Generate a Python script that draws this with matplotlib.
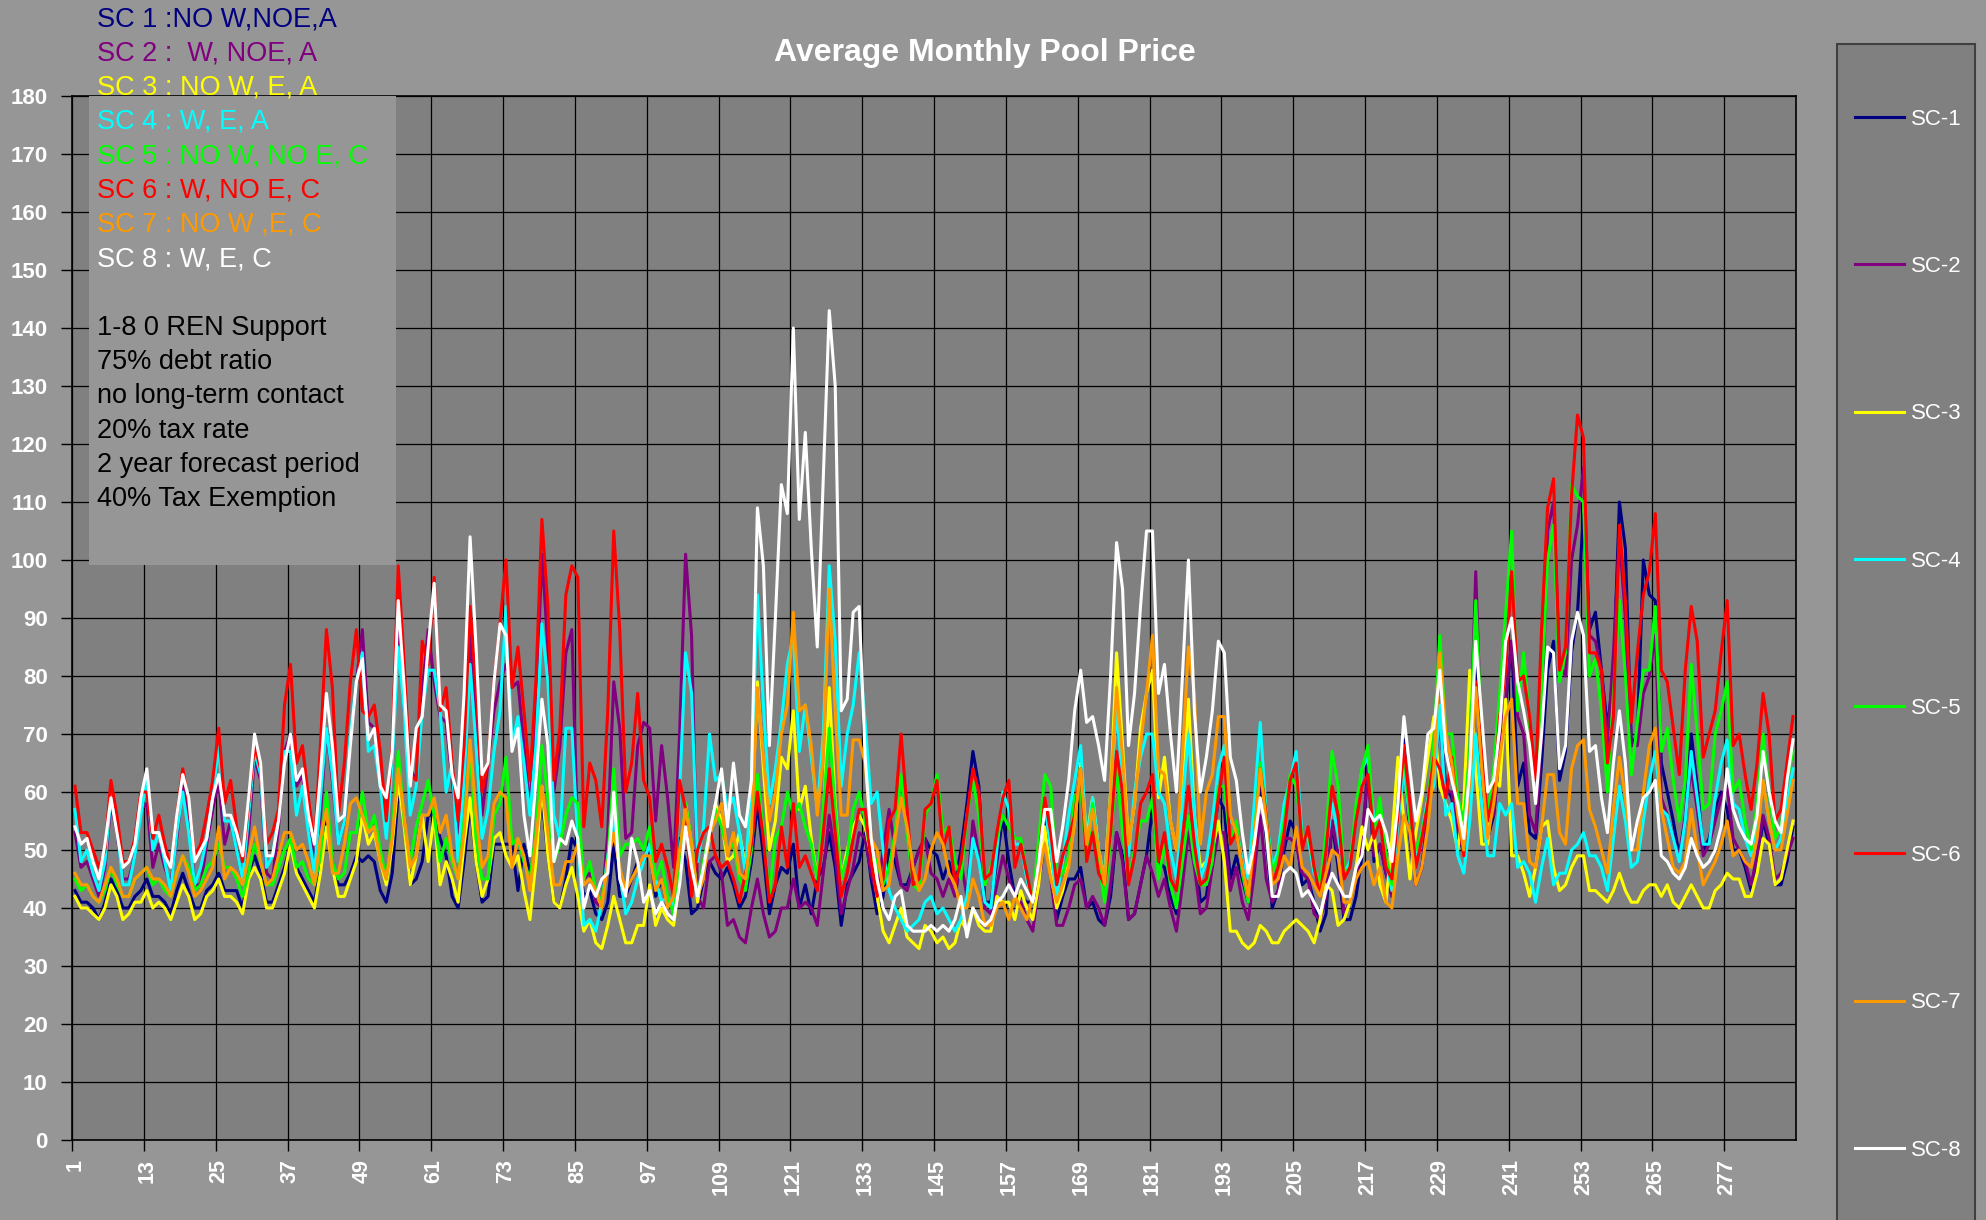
#!/usr/bin/env python3
# -*- coding: utf-8 -*-

import numpy as np
import matplotlib
matplotlib.use("Agg")
import matplotlib.pyplot as plt
from matplotlib.patches import Rectangle

# Monthly pool price per scenario, one row of 12 values per year (288 months)
sc1 = [
    43, 41, 41, 40, 38, 41, 45, 43, 40, 40, 42, 43,
    45, 42, 42, 41, 39, 43, 46, 43, 40, 40, 43, 44,
    46, 43, 43, 43, 40, 46, 49, 46, 41, 41, 44, 47,
    51, 47, 45, 43, 41, 47, 55, 48, 44, 44, 46, 49,
    48, 49, 48, 43, 41, 46, 60, 56, 44, 45, 48, 56,
    56, 52, 49, 42, 40, 48, 58, 48, 41, 42, 51, 51,
    51, 51, 43, 51, 46, 49, 59, 49, 41, 40, 45, 52,
    50, 42, 43, 39, 38, 41, 51, 42, 42, 45, 48, 48,
    50, 42, 45, 40, 41, 52, 48, 39, 40, 45, 48, 46,
    45, 47, 44, 40, 42, 48, 58, 49, 39, 44, 47, 46,
    51, 40, 44, 39, 45, 47, 53, 47, 37, 44, 46, 48,
    53, 45, 39, 42, 50, 48, 44, 44, 47, 50, 52, 50,
    49, 45, 48, 44, 50, 58, 67, 61, 41, 41, 48, 56,
    48, 42, 42, 41, 41, 45, 55, 46, 38, 42, 45, 45,
    47, 40, 41, 38, 37, 42, 53, 49, 38, 39, 44, 49,
    57, 48, 47, 42, 39, 47, 56, 51, 41, 42, 50, 59,
    57, 45, 49, 45, 41, 50, 61, 52, 40, 43, 50, 55,
    53, 44, 45, 41, 36, 39, 55, 47, 38, 38, 42, 49,
    65, 48, 51, 46, 42, 58, 69, 52, 44, 47, 56, 64,
    72, 61, 59, 52, 50, 64, 82, 61, 52, 56, 67, 75,
    86, 61, 65, 53, 52, 65, 81, 86, 62, 67, 84, 91,
    108, 88, 91, 81, 71, 80, 110, 102, 68, 70, 100, 94,
    93, 65, 60, 55, 49, 55, 70, 61, 50, 52, 57, 60,
    57, 50, 50, 47, 43, 48, 55, 51, 44, 44, 48, 54,
]
sc2 = [
    53, 47, 48, 45, 42, 47, 58, 53, 45, 45, 49, 57,
    58, 47, 51, 47, 44, 52, 61, 55, 44, 44, 51, 57,
    62, 51, 55, 50, 45, 53, 66, 62, 46, 45, 54, 67,
    70, 61, 63, 55, 48, 56, 71, 62, 51, 55, 69, 79,
    88, 72, 71, 62, 57, 65, 88, 74, 64, 62, 77, 88,
    79, 73, 72, 62, 53, 62, 88, 71, 56, 65, 74, 79,
    82, 78, 79, 68, 57, 74, 101, 85, 60, 68, 84, 88,
    51, 45, 46, 41, 40, 53, 79, 71, 52, 53, 68, 72,
    71, 55, 68, 59, 47, 70, 101, 87, 42, 40, 48, 49,
    46, 37, 38, 35, 34, 40, 45, 39, 35, 36, 40, 40,
    45, 40, 41, 40, 37, 46, 56, 49, 39, 43, 47, 53,
    52, 46, 42, 50, 57, 50, 44, 43, 47, 50, 52, 46,
    45, 42, 45, 42, 48, 42, 55, 49, 40, 39, 44, 49,
    45, 42, 41, 38, 36, 44, 52, 45, 37, 37, 40, 44,
    45, 40, 42, 40, 37, 44, 53, 48, 38, 39, 44, 49,
    46, 42, 45, 40, 36, 44, 53, 47, 39, 40, 47, 53,
    53, 43, 47, 41, 38, 46, 56, 45, 41, 43, 52, 52,
    51, 46, 45, 39, 38, 42, 55, 49, 39, 41, 45, 52,
    64, 49, 51, 46, 42, 58, 67, 53, 44, 47, 56, 64,
    72, 60, 60, 53, 50, 64, 98, 67, 55, 56, 67, 76,
    86, 73, 70, 56, 53, 70, 105, 110, 82, 80, 100, 106,
    116, 87, 86, 81, 68, 84, 104, 90, 68, 68, 77, 80,
    87, 59, 56, 52, 49, 56, 64, 57, 49, 51, 55, 59,
    61, 52, 50, 48, 44, 49, 56, 52, 45, 46, 49, 52,
]
sc3 = [
    42, 40, 40, 39, 38, 40, 44, 42, 38, 39, 41, 41,
    43, 40, 41, 40, 38, 41, 44, 42, 38, 39, 42, 43,
    45, 42, 42, 41, 39, 45, 47, 45, 40, 40, 43, 46,
    51, 46, 44, 42, 40, 46, 54, 47, 42, 42, 45, 48,
    56, 51, 53, 48, 44, 51, 62, 54, 44, 49, 56, 48,
    56, 44, 48, 45, 41, 51, 59, 48, 42, 45, 52, 53,
    49, 47, 49, 43, 38, 48, 61, 49, 41, 40, 44, 47,
    42, 36, 38, 34, 33, 37, 42, 38, 34, 34, 37, 37,
    44, 37, 40, 38, 37, 45, 58, 51, 41, 47, 52, 58,
    55, 48, 49, 53, 47, 55, 79, 64, 50, 55, 66, 64,
    74, 57, 61, 52, 45, 55, 78, 58, 45, 50, 54, 56,
    54, 49, 42, 36, 34, 37, 40, 35, 34, 33, 37, 36,
    34, 35, 33, 34, 38, 36, 40, 37, 36, 36, 42, 41,
    41, 38, 43, 40, 38, 44, 54, 46, 40, 43, 48, 55,
    65, 52, 59, 50, 45, 60, 84, 68, 51, 58, 71, 77,
    81, 59, 66, 55, 50, 60, 76, 56, 47, 48, 50, 55,
    48, 36, 36, 34, 33, 34, 37, 36, 34, 34, 36, 37,
    38, 37, 36, 34, 38, 44, 43, 37, 38, 41, 47, 54,
    50, 53, 44, 41, 52, 66, 55, 45, 53, 59, 66, 73,
    61, 58, 55, 50, 58, 81, 64, 51, 51, 62, 61, 76,
    49, 49, 46, 42, 47, 54, 55, 47, 43, 44, 47, 49,
    49, 43, 43, 42, 41, 43, 46, 43, 41, 41, 43, 44,
    44, 42, 44, 41, 40, 42, 44, 42, 40, 40, 43, 44,
    46, 45, 45, 42, 42, 46, 52, 51, 44, 45, 50, 55,
]
sc4 = [
    57, 48, 50, 46, 43, 48, 59, 54, 44, 44, 49, 56,
    62, 50, 53, 48, 43, 53, 60, 53, 44, 47, 52, 59,
    68, 55, 55, 50, 45, 56, 67, 63, 47, 49, 56, 67,
    67, 56, 61, 53, 46, 59, 71, 63, 51, 55, 70, 79,
    84, 67, 68, 61, 52, 65, 85, 74, 56, 61, 74, 81,
    81, 74, 60, 65, 48, 62, 82, 68, 52, 57, 67, 74,
    92, 68, 73, 65, 56, 68, 89, 79, 56, 52, 71, 71,
    51, 37, 38, 36, 41, 49, 56, 46, 39, 41, 45, 48,
    51, 45, 41, 42, 40, 60, 84, 77, 48, 54, 70, 62,
    63, 57, 59, 53, 46, 62, 94, 75, 58, 64, 72, 82,
    87, 67, 75, 66, 57, 70, 99, 86, 61, 70, 75, 84,
    72, 58, 60, 50, 43, 40, 38, 36, 37, 38, 41, 42,
    39, 40, 38, 36, 38, 42, 52, 48, 41, 40, 50, 60,
    57, 51, 51, 45, 41, 50, 58, 50, 42, 48, 56, 62,
    68, 51, 59, 50, 45, 60, 74, 62, 49, 60, 66, 70,
    70, 60, 58, 50, 45, 58, 70, 56, 45, 48, 55, 64,
    68, 55, 54, 48, 45, 58, 72, 56, 47, 50, 58, 62,
    67, 52, 52, 46, 44, 50, 58, 53, 46, 48, 55, 64,
    66, 55, 55, 48, 43, 55, 64, 55, 49, 53, 59, 61,
    75, 56, 58, 49, 46, 55, 70, 58, 49, 49, 58, 56,
    58, 47, 48, 46, 41, 47, 52, 44, 46, 46, 50, 51,
    53, 49, 49, 47, 43, 52, 61, 55, 47, 48, 55, 62,
    67, 57, 56, 52, 48, 55, 67, 59, 51, 51, 59, 65,
    69, 58, 57, 52, 49, 55, 62, 55, 50, 52, 58, 64,
]
sc5 = [
    45, 43, 44, 42, 41, 43, 47, 44, 42, 42, 45, 46,
    47, 44, 45, 43, 42, 46, 49, 47, 43, 44, 47, 48,
    51, 47, 47, 45, 42, 46, 51, 48, 44, 44, 47, 50,
    52, 47, 48, 45, 44, 49, 60, 48, 45, 46, 53, 53,
    60, 53, 56, 50, 45, 53, 67, 55, 48, 54, 58, 62,
    56, 48, 52, 48, 45, 55, 67, 52, 45, 45, 56, 58,
    66, 51, 52, 48, 45, 53, 68, 59, 48, 51, 56, 59,
    58, 45, 48, 43, 41, 48, 64, 49, 51, 51, 52, 50,
    54, 45, 48, 42, 39, 46, 58, 51, 42, 48, 53, 57,
    54, 50, 51, 45, 43, 50, 63, 53, 42, 52, 54, 60,
    56, 58, 54, 51, 45, 57, 71, 57, 45, 49, 57, 60,
    55, 49, 48, 44, 47, 53, 63, 53, 44, 43, 56, 58,
    63, 53, 54, 48, 45, 56, 62, 56, 44, 47, 52, 56,
    54, 52, 52, 46, 41, 52, 63, 61, 45, 46, 49, 59,
    61, 48, 58, 48, 41, 52, 64, 53, 45, 50, 55, 55,
    59, 45, 51, 44, 40, 48, 56, 48, 44, 44, 48, 61,
    61, 51, 55, 46, 41, 52, 65, 56, 46, 49, 55, 63,
    61, 52, 53, 47, 44, 53, 67, 61, 46, 47, 58, 64,
    68, 53, 59, 49, 44, 58, 67, 55, 50, 53, 58, 69,
    87, 70, 70, 59, 55, 67, 93, 70, 56, 64, 77, 91,
    105, 74, 84, 72, 61, 77, 100, 106, 79, 84, 113, 111,
    110, 80, 83, 74, 60, 77, 93, 80, 63, 72, 81, 81,
    92, 67, 71, 62, 55, 62, 82, 70, 57, 58, 70, 74,
    79, 60, 62, 55, 50, 58, 70, 60, 52, 54, 62, 67,
]
sc6 = [
    61, 53, 53, 50, 47, 50, 62, 56, 48, 48, 52, 60,
    60, 52, 56, 51, 47, 56, 64, 58, 49, 51, 56, 62,
    71, 58, 62, 54, 48, 58, 68, 64, 51, 53, 57, 75,
    82, 65, 68, 59, 51, 68, 88, 78, 56, 65, 79, 88,
    74, 73, 75, 67, 55, 68, 99, 82, 63, 62, 86, 82,
    97, 74, 78, 65, 55, 68, 92, 78, 60, 65, 79, 89,
    100, 78, 85, 74, 62, 79, 107, 92, 62, 71, 94, 99,
    97, 54, 65, 62, 54, 74, 105, 88, 60, 65, 77, 62,
    59, 48, 51, 47, 42, 62, 57, 42, 50, 53, 54, 49,
    47, 48, 45, 41, 46, 51, 60, 52, 41, 44, 54, 47,
    58, 47, 49, 46, 43, 53, 64, 53, 42, 46, 52, 57,
    57, 48, 42, 45, 55, 57, 70, 57, 44, 45, 57, 58,
    62, 50, 54, 44, 48, 56, 64, 60, 45, 46, 53, 59,
    62, 47, 51, 46, 41, 48, 59, 53, 44, 49, 52, 56,
    64, 48, 53, 46, 44, 53, 67, 60, 44, 49, 58, 60,
    63, 48, 53, 45, 43, 52, 61, 51, 44, 45, 51, 59,
    66, 51, 53, 47, 42, 49, 64, 56, 44, 47, 53, 62,
    65, 50, 54, 47, 42, 50, 61, 56, 45, 47, 55, 61,
    63, 52, 55, 47, 45, 56, 68, 58, 47, 52, 58, 66,
    64, 59, 66, 56, 49, 64, 79, 67, 55, 60, 73, 81,
    98, 79, 80, 73, 62, 88, 109, 114, 81, 85, 111, 125,
    121, 84, 84, 81, 65, 73, 106, 93, 72, 84, 94, 98,
    108, 81, 79, 71, 63, 81, 92, 86, 66, 70, 74, 84,
    93, 68, 70, 63, 57, 65, 77, 70, 55, 57, 65, 73,
]
sc7 = [
    46, 44, 44, 42, 41, 44, 47, 45, 42, 42, 45, 46,
    47, 45, 45, 44, 42, 46, 49, 46, 42, 43, 45, 47,
    54, 45, 47, 46, 44, 49, 54, 48, 44, 45, 49, 53,
    53, 50, 51, 48, 44, 52, 57, 46, 46, 51, 58, 59,
    56, 53, 54, 48, 45, 52, 64, 56, 47, 49, 56, 56,
    59, 53, 56, 49, 45, 53, 69, 56, 47, 49, 58, 60,
    59, 47, 52, 49, 43, 52, 61, 53, 44, 44, 48, 48,
    51, 44, 45, 43, 40, 48, 53, 47, 43, 45, 47, 49,
    49, 43, 45, 40, 42, 50, 57, 51, 42, 45, 53, 55,
    58, 49, 53, 46, 45, 53, 78, 66, 55, 60, 70, 75,
    91, 74, 75, 68, 56, 66, 95, 74, 56, 56, 69, 69,
    65, 52, 50, 43, 44, 52, 59, 54, 47, 43, 45, 50,
    53, 51, 46, 44, 40, 40, 45, 42, 37, 37, 40, 41,
    38, 42, 40, 38, 42, 46, 51, 45, 41, 44, 47, 55,
    64, 51, 57, 50, 44, 60, 78, 66, 51, 58, 68, 77,
    87, 64, 63, 55, 50, 66, 85, 77, 51, 60, 63, 73,
    73, 56, 53, 47, 42, 52, 64, 55, 44, 45, 49, 47,
    54, 47, 46, 44, 42, 46, 50, 49, 41, 41, 45, 47,
    48, 44, 47, 41, 40, 49, 56, 53, 44, 47, 54, 64,
    84, 70, 65, 56, 50, 62, 78, 64, 52, 58, 66, 73,
    76, 58, 58, 48, 47, 54, 63, 63, 53, 51, 64, 68,
    69, 57, 54, 50, 46, 57, 66, 59, 50, 50, 60, 68,
    71, 57, 52, 47, 46, 48, 57, 50, 44, 46, 48, 51,
    55, 49, 50, 48, 47, 52, 62, 55, 50, 50, 56, 62,
]
sc8 = [
    54, 51, 52, 48, 45, 51, 59, 53, 47, 48, 51, 59,
    64, 53, 53, 49, 47, 56, 63, 59, 48, 50, 52, 59,
    63, 56, 56, 53, 49, 59, 70, 65, 49, 49, 55, 65,
    70, 62, 64, 56, 51, 63, 77, 68, 55, 56, 68, 79,
    83, 69, 71, 61, 59, 67, 93, 78, 61, 71, 73, 85,
    96, 75, 74, 63, 59, 77, 104, 85, 63, 65, 79, 89,
    87, 67, 71, 56, 49, 62, 76, 68, 48, 52, 51, 55,
    52, 40, 44, 42, 45, 46, 60, 45, 42, 52, 48, 41,
    43, 39, 41, 39, 38, 44, 54, 47, 42, 47, 53, 58,
    64, 54, 65, 56, 54, 62, 109, 99, 68, 90, 113, 108,
    140, 107, 122, 102, 85, 114, 143, 130, 74, 76, 91, 92,
    66, 52, 45, 40, 38, 42, 43, 37, 36, 36, 36, 37,
    36, 37, 36, 38, 42, 35, 40, 38, 37, 38, 41, 42,
    44, 42, 45, 43, 41, 48, 57, 57, 48, 54, 62, 74,
    81, 72, 73, 68, 62, 80, 103, 95, 68, 77, 92, 105,
    105, 77, 82, 70, 60, 80, 100, 74, 60, 66, 74, 86,
    84, 66, 62, 53, 46, 51, 59, 53, 42, 42, 46, 47,
    46, 42, 43, 41, 39, 43, 46, 44, 42, 42, 47, 49,
    57, 55, 56, 53, 48, 58, 73, 64, 55, 60, 70, 71,
    81, 67, 62, 58, 52, 64, 86, 73, 60, 62, 71, 86,
    90, 79, 74, 68, 58, 70, 85, 84, 64, 68, 86, 91,
    87, 67, 68, 59, 53, 65, 74, 65, 50, 55, 59, 60,
    62, 49, 48, 46, 45, 47, 52, 49, 47, 48, 50, 54,
    64, 57, 54, 52, 51, 56, 67, 60, 55, 53, 62, 69,
]

series_names = ["SC-1", "SC-2", "SC-3", "SC-4", "SC-5", "SC-6", "SC-7", "SC-8"]
series_colors = ["#000080", "#800080", "#FFFF00", "#00FFFF",
                 "#00FF00", "#FF0000", "#FF9900", "#FFFFFF"]

# Scenario descriptions shown in the top-left box
scenario_notes = ["SC 1 :NO W,NOE,A", "SC 2 :  W, NOE, A", "SC 3 : NO W, E, A",
                  "SC 4 : W, E, A", "SC 5 : NO W, NO E, C", "SC 6 : W, NO E, C",
                  "SC 7 : NO W ,E, C", "SC 8 : W, E, C"]
assumption_notes = ["1-8 0 REN Support", "75% debt ratio", "no long-term contact",
                    "20% tax rate", "2 year forecast period", "40% Tax Exemption"]

W, H = 1986, 1220


def fx(px: float) -> float:
    return px / W


def fy(py: float) -> float:
    return 1 - py / H


def main() -> None:
    plt.rcParams['font.family'] = ['Liberation Sans', 'DejaVu Sans']

    fig = plt.figure(figsize=(W / 100, H / 100), dpi=100, facecolor="#969696")
    ax = fig.add_axes([fx(72), fy(1140), fx(1796) - fx(72), fy(96) - fy(1140)])
    ax.set_facecolor("#808080")

    # Months sit in the middle of their category slot
    months = np.arange(1, len(sc1) + 1)
    xpos = months - 0.5

    lines = []
    for vals, col in zip([sc1, sc2, sc3, sc4, sc5, sc6, sc7, sc8], series_colors):
        ln, = ax.plot(xpos, vals, color=col, lw=2.2, zorder=3)
        lines.append(ln)

    ax.set_xlim(0, len(sc1))
    ax.set_ylim(0, 180)

    # Y axis
    ax.set_yticks(np.arange(0, 181, 10))
    ax.set_yticklabels([str(v) for v in range(0, 181, 10)],
                       fontsize=16, fontweight='bold', color='white')
    ax.tick_params(axis='y', length=8, width=1, color='black', pad=9.5)

    # X axis: tick marks/gridlines on year boundaries, labels on first month
    ax.set_xticks(np.arange(0, len(sc1), 12))
    ax.set_xticklabels([])
    ax.set_xticks(np.arange(0, len(sc1), 12) + 0.5, minor=True)
    ax.set_xticklabels([str(m) for m in range(1, len(sc1), 12)], minor=True,
                       rotation=90, fontsize=15.5, fontweight='bold', color='white')
    ax.tick_params(axis='x', which='major', length=8, width=1, color='black')
    ax.tick_params(axis='x', which='minor', length=0, pad=14)

    ax.grid(which='major', color='black', lw=0.9, zorder=1)
    ax.set_axisbelow(True)
    for sp in ax.spines.values():
        sp.set_color('black')
        sp.set_linewidth(1.2)

    # Title
    fig.text(fx(985), fy(53), "Average Monthly Pool Price", ha='center', va='center',
             fontsize=23, fontweight='bold', color='white')

    # Note box covering the top-left of the plot
    fig.add_artist(Rectangle((fx(89), fy(565)), fx(396) - fx(89), fy(96) - fy(565),
                             transform=fig.transFigure, facecolor="#969696",
                             edgecolor='none', zorder=2))
    y0, step = 19, 34.3
    for i, (txt, col) in enumerate(zip(scenario_notes, series_colors)):
        fig.text(fx(97), fy(y0 + i * step), txt, ha='left', va='center',
                 fontsize=19.5, color=col, zorder=4)
    for i, txt in enumerate(assumption_notes):
        fig.text(fx(97), fy(y0 + (i + 9) * step), txt, ha='left', va='center',
                 fontsize=19.5, color='black', zorder=4)

    # Legend panel on the right
    fig.add_artist(Rectangle((fx(1837), fy(1240)), fx(1975) - fx(1837), fy(44) - fy(1240),
                             transform=fig.transFigure, facecolor="#808080",
                             edgecolor="#404040", lw=1.5, zorder=2))
    fig.legend(lines, series_names, loc='upper left',
               bbox_to_anchor=(fx(1855), fy(109)), bbox_transform=fig.transFigure,
               frameon=False, fontsize=16, labelcolor='white', handlelength=2.2,
               handletextpad=0.3, labelspacing=5.68, borderpad=0, borderaxespad=0)

    fig.savefig("out.png", dpi=100, facecolor=fig.get_facecolor())


if __name__ == '__main__':
    main()
